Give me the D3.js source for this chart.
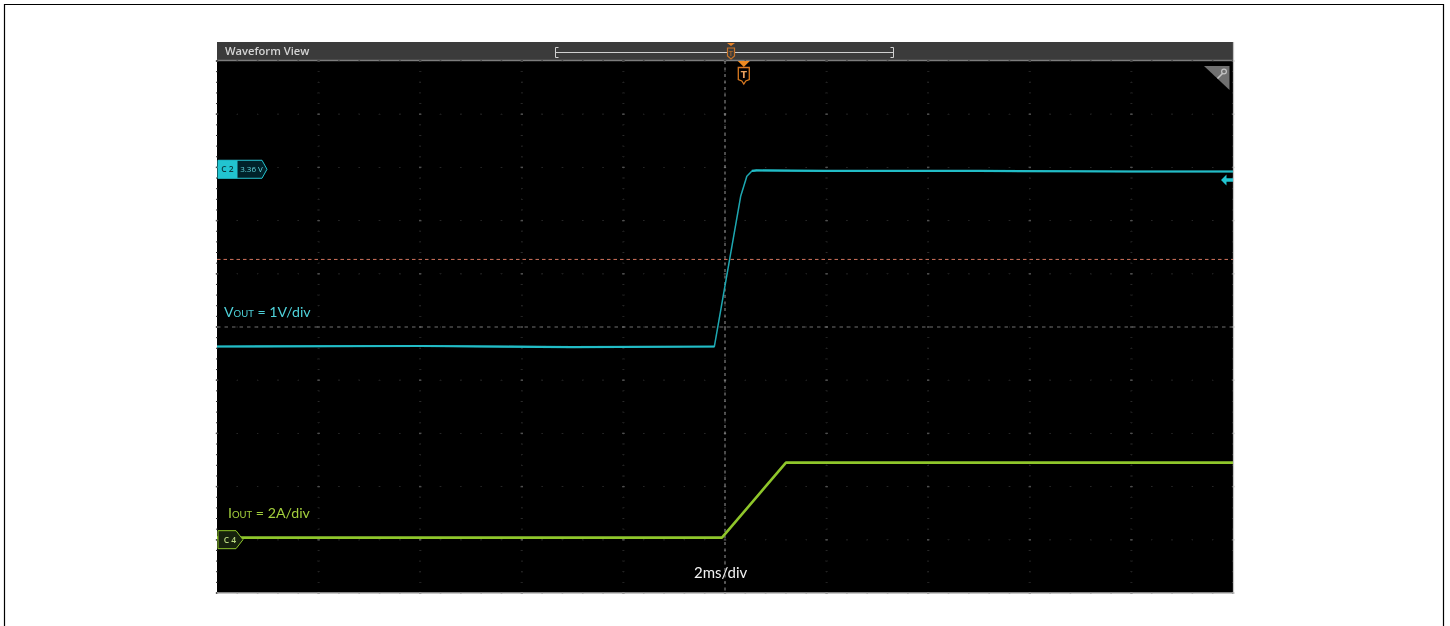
<!DOCTYPE html>
<html lang="en">
<head>
    <meta charset="UTF-8">
    <title>Waveform View</title>
    <script src="https://cdnjs.cloudflare.com/ajax/libs/d3/7.8.5/d3.min.js"></script>
    <style>
        html, body { margin: 0; background: #fff; }
        svg { display: block; }
    </style>
</head>
<body>
    <div id="chart"></div>
    <script>
        // Values (time relative to screen centre)
        const voutTime = [-10, -6, -3, -0.21, 0.31, 0.43, 0.53, 0.62, 2, 5, 8, 10];
        const voutVolts = [0, 0.01, -0.01, 0, 2.83, 3.2, 3.3, 3.31, 3.3, 3.3, 3.29, 3.29];
        const ioutTime = [-10, -5, -2, -0.06, 1.2, 3, 6, 10];
        const ioutAmps = [0, 0, 0, 0, 2.82, 2.82, 2.82, 2.82];
        const c2Level = 3.36;
        const timeDivs = d3.range(-10, 10.01, 2);
        const gridRows = d3.range(-5, 5.01, 1);
        const triggerTime = 0.37;
        const refLevelDiv = 1.27;
        const scopeTitle = "Waveform View";

        const W = 1450, H = 626;
        const plot = { left: 217, right: 1233, top: 61, bottom: 593 };

        const svg = d3.select("#chart").append("svg").attr("width", W).attr("height", H);
        const defs = svg.append("defs");
        defs.append("filter").attr("id", "soft").append("feGaussianBlur").attr("stdDeviation", 0.5);
        defs.append("filter").attr("id", "softer").append("feGaussianBlur").attr("stdDeviation", 0.35);

        // page frame
        svg.append("path").attr("d", `M4.5,${H} V4.5 H1443.5 V${H}`)
            .attr("fill", "none").attr("stroke", "#000").attr("stroke-width", 1.2);

        const x = d3.scaleLinear().domain([-10, 10]).range([plot.left, plot.right]);
        const yDiv = d3.scaleLinear().domain([-5, 5]).range([plot.bottom, plot.top]);
        // 1V/div, ground sits 0.367 div below centre
        const yV = v => yDiv(v - 0.367);
        // 2A/div, ground sits 3.96 div below centre
        const yA = a => yDiv(a / 2 - 3.96);

        const g = svg.append("g").attr("filter", "url(#soft)");

        g.append("rect").attr("x", plot.left).attr("y", plot.top)
            .attr("width", plot.right - plot.left).attr("height", plot.bottom - plot.top).attr("fill", "#000");

        // header bar
        g.append("rect").attr("x", plot.left).attr("y", 42)
            .attr("width", plot.right - plot.left).attr("height", 19).attr("fill", "#3b3b3b");
        g.append("line").attr("x1", plot.left).attr("x2", plot.right).attr("y1", 60.5).attr("y2", 60.5)
            .attr("stroke", "#7d7d7d").attr("stroke-width", 1.4);
        g.append("text").attr("x", 225).attr("y", 55).text(scopeTitle)
            .attr("font-family", "'Open Sans', sans-serif").attr("font-size", 11.2).attr("font-weight", 600)
            .attr("fill", "#d4d4d4");

        // zoom overview bracket
        g.append("path").attr("d", "M558.5,47.5 H555.5 V57.5 H558.5 M555.5,52.5 H893.5 M890.5,47.5 H893.5 V57.5 H890.5")
            .attr("fill", "none").attr("stroke", "#d0d0d0").attr("stroke-width", 1);
        g.append("path").attr("d", "M727,43 H735 L731,46 Z").attr("fill", "#e8842a");
        g.append("path").attr("d", "M727.5,48 H734.5 V56 L731,59 L727.5,56 Z")
            .attr("fill", "#3b3b3b").attr("stroke", "#c8742a").attr("stroke-width", 1.2);
        g.append("text").attr("x", 731).attr("y", 55.5).attr("text-anchor", "middle").text("T")
            .attr("font-family", "'DejaVu Sans', sans-serif").attr("font-size", 7).attr("fill", "#c8742a");

        // graticule dots, fine ticks along each division line
        const dotColor = "#2a2a2a";
        const fineX = d3.range(-10, 10.001, 0.4);
        const fineY = d3.range(-5, 5.001, 0.2);
        g.append("g").selectAll("rect").data(gridRows.flatMap(r => fineX.map(t => [t, r])))
            .join("rect")
            .attr("x", d => x(d[0]) - 0.8).attr("y", d => yDiv(d[1]) - 0.5)
            .attr("width", 1.6).attr("height", 1).attr("fill", dotColor);
        g.append("g").selectAll("rect").data(timeDivs.flatMap(t => fineY.map(r => [t, r])))
            .join("rect")
            .attr("x", d => x(d[0]) - 1).attr("y", d => yDiv(d[1]) - 0.5)
            .attr("width", 2).attr("height", 1).attr("fill", dotColor);
        g.append("g").selectAll("rect").data(timeDivs.flatMap(t => gridRows.map(r => [t, r])))
            .join("rect")
            .attr("x", d => x(d[0]) - 1.2).attr("y", d => yDiv(d[1]) - 0.7)
            .attr("width", 2.4).attr("height", 1.4).attr("fill", "#505050");

        // centre cursors and reference level
        g.append("line").attr("x1", x(0)).attr("x2", x(0)).attr("y1", plot.top).attr("y2", plot.bottom)
            .attr("stroke", "#969696").attr("stroke-width", 1).attr("stroke-dasharray", "3,3.5");
        g.append("line").attr("x1", plot.left).attr("x2", plot.right).attr("y1", yDiv(0)).attr("y2", yDiv(0))
            .attr("stroke", "#6e6e6e").attr("stroke-width", 1).attr("stroke-dasharray", "3.5,4");
        g.append("line").attr("x1", plot.left).attr("x2", plot.right)
            .attr("y1", yDiv(refLevelDiv)).attr("y2", yDiv(refLevelDiv))
            .attr("stroke", "#d0705a").attr("stroke-width", 1).attr("stroke-dasharray", "3.5,3");

        // traces: thin line everywhere, heavier noise band on the settled parts
        const voutLine = d3.line().x((d, i) => x(voutTime[i])).y(d => yV(d));
        const voutFlat = d3.line().defined((d, i) => i <= 3 || i >= 6).x((d, i) => x(voutTime[i])).y(d => yV(d));
        const ioutLine = d3.line().x((d, i) => x(ioutTime[i])).y(d => yA(d));
        g.append("path").attr("d", voutLine(voutVolts)).attr("fill", "none")
            .attr("stroke", "#1fa8b2").attr("stroke-width", 1.5).attr("stroke-linejoin", "round");
        g.append("path").attr("d", voutFlat(voutVolts)).attr("fill", "none")
            .attr("stroke", "#22bcc6").attr("stroke-width", 2.2);
        g.append("path").attr("d", ioutLine(ioutAmps)).attr("fill", "none")
            .attr("stroke", "#8fc62c").attr("stroke-width", 2.6).attr("stroke-linejoin", "round");

        // trigger marker
        const tx = x(triggerTime);
        g.append("path").attr("d", `M${tx - 6},61 H${tx + 6} L${tx},67 Z`).attr("fill", "#f08a24");
        g.append("path").attr("d", `M${tx - 5.5},67.5 H${tx + 5.5} V79.5 L${tx + 2},81 L${tx},84 L${tx - 2},81 L${tx - 5.5},79.5 Z`)
            .attr("fill", "#000").attr("stroke", "#d97a20").attr("stroke-width", 1.3);
        g.append("text").attr("x", tx).attr("y", 77.5).attr("text-anchor", "middle").text("T")
            .attr("font-family", "'DejaVu Sans', sans-serif").attr("font-size", 9).attr("font-weight", 700).attr("fill", "#e8a060");

        // zoom corner with key glyph
        g.append("path").attr("d", "M1204,66 H1229.5 V90 Z").attr("fill", "#6f6f6f");
        g.append("circle").attr("cx", 1224).attr("cy", 71.5).attr("r", 2.4)
            .attr("fill", "none").attr("stroke", "#c4c4c4").attr("stroke-width", 1.2);
        g.append("line").attr("x1", 1222.5).attr("y1", 73.5).attr("x2", 1217.5).attr("y2", 78.5)
            .attr("stroke", "#c4c4c4").attr("stroke-width", 1.6);

        // right edge arrow for C2 offset
        g.append("path").attr("d", "M1221,180 L1226.5,174.5 V178.2 H1233 V181.8 H1226.5 V185.5 Z").attr("fill", "#22c4d0");

        // plot edges
        g.append("line").attr("x1", plot.right + 0.5).attr("x2", plot.right + 0.5).attr("y1", 42).attr("y2", plot.bottom + 1)
            .attr("stroke", "#c4c4c4").attr("stroke-width", 1.2);
        g.append("line").attr("x1", plot.left).attr("x2", plot.right + 1).attr("y1", plot.bottom).attr("y2", plot.bottom)
            .attr("stroke", "#b4b4b4").attr("stroke-width", 1.6);

        // C2 badge
        const c2y = yV(c2Level) + 1.5;
        g.append("path").attr("d", `M218,${c2y - 9} H262 L267,${c2y} L262,${c2y + 9} H218 Z`)
            .attr("fill", "#04222a").attr("stroke", "#22c4d0").attr("stroke-width", 1);
        g.append("path").attr("d", `M218,${c2y - 9} H237.5 V${c2y + 9} H218 Z`).attr("fill", "#22c4d0");
        g.append("text").attr("x", 227.5).attr("y", c2y + 3).attr("text-anchor", "middle").text("C 2")
            .attr("font-family", "'Open Sans', sans-serif").attr("font-size", 8.5).attr("font-weight", 600).attr("fill", "#0a3a40");
        g.append("text").attr("x", 251.5).attr("y", c2y + 3).attr("text-anchor", "middle").text(c2Level.toFixed(2) + " V")
            .attr("font-family", "'Open Sans', sans-serif").attr("font-size", 8).attr("fill", "#5fd4dc");

        // C4 badge
        const c4y = yA(0) + 2;
        g.append("path").attr("d", `M218,${c4y - 9} H236 L243,${c4y} L236,${c4y + 9} H218 Z`)
            .attr("fill", "#16200a").attr("stroke", "#8fc62c").attr("stroke-width", 1);
        g.append("text").attr("x", 230).attr("y", c4y + 3).attr("text-anchor", "middle").text("C 4")
            .attr("font-family", "'Open Sans', sans-serif").attr("font-size", 8.5).attr("font-weight", 600).attr("fill", "#b8d880");

        // annotations pasted over the screenshot
        function label(px, py, color, size, lead, sub, rest) {
            const t = svg.append("text").attr("x", px).attr("y", py).attr("fill", color)
                .attr("font-family", "Lato, 'Open Sans', sans-serif").attr("font-size", size).attr("filter", "url(#softer)");
            t.append("tspan").text(lead);
            if (sub) t.append("tspan").attr("font-size", 9.5).text(sub);
            t.append("tspan").text(rest);
        }
        label(224, 317, "#4fd2da", 14.2, "V", "OUT", " = 1V/div");
        label(228, 518, "#a3cf3c", 14.2, "I", "OUT", " = 2A/div");
        label(694, 578, "#f2f2f2", 15, "2ms/div", "", "");
    </script>
</body>
</html>
